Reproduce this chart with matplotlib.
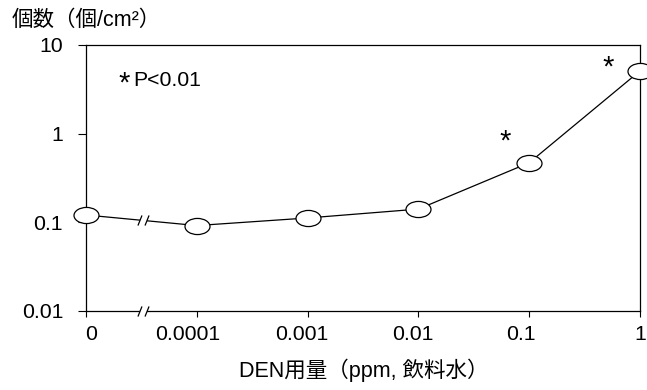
import matplotlib.pyplot as plt
import numpy as np
from matplotlib.path import Path
from matplotlib.transforms import Affine2D, ScaledTranslation

plt.rcParams["font.family"] = ["Liberation Sans", "Noto Sans CJK JP"]

# Dose groups (plotted at equal spacing) and tumour counts per cm2
dose_labels = ["0", "0.0001", "0.001", "0.01", "0.1", "1"]
counts = [0.121, 0.092, 0.112, 0.141, 0.47, 5.1]
significant = [False, False, False, False, True, True]
break_x = 0.51

x = np.arange(len(dose_labels))

fig = plt.figure(figsize=(6.47, 3.90), dpi=100)
ax = fig.add_axes([86 / 647, 1 - 311 / 390, 554 / 647, 266 / 390])

# ellipse-shaped marker
ellipse = Path.unit_circle().transformed(Affine2D().scale(1.55, 1.0))
ax.plot(x, counts, color="black", linewidth=0.9, marker=ellipse,
        markersize=18, markerfacecolor="white", markeredgecolor="black",
        markeredgewidth=0.9, clip_on=False, zorder=3)

ax.set_yscale("log")
ax.set_ylim(0.01, 10)
ax.set_xlim(0, len(dose_labels) - 1)
ax.set_yticks([0.01, 0.1, 1, 10])
ax.set_yticklabels(["0.01", "0.1", "1", "10"])
ax.minorticks_off()
ax.set_xticks(x)
ax.set_xticklabels(dose_labels)

for s in ax.spines.values():
    s.set_linewidth(0.9)
ax.tick_params(axis="y", length=5.5, width=0.8, pad=11, labelsize=15.3)
ax.tick_params(axis="x", length=4, width=0.8, pad=6, labelsize=15.3)

# hand-placed x tick labels (pixel shifts)
label_shift = [5, -9.5, -5.6, -5.4, -8, 0]
for lab, dx in zip(ax.get_xticklabels(), label_shift):
    lab.set_transform(lab.get_transform() +
                      ScaledTranslation(dx / 100, 0, fig.dpi_scale_trans))

# "//" axis-break marks on the x axis and on the curve
slashes = Path([(-5.5, -5), (-1.5, 5), (1.5, -5), (5.5, 5)],
               [Path.MOVETO, Path.LINETO, Path.MOVETO, Path.LINETO])
gap = Path([(-5.5, -5), (1.5, -5), (5.5, 5), (-1.5, 5), (-5.5, -5)],
           [Path.MOVETO, Path.LINETO, Path.LINETO, Path.LINETO, Path.CLOSEPOLY])
y_line = 10 ** np.interp(break_x, x[:2], np.log10(counts[:2]))
bx = [break_x, break_x]
by = [0.01, y_line]
ax.plot(bx, by, linestyle="none", marker=gap, markersize=8,
        markerfacecolor="white", markeredgewidth=0, clip_on=False, zorder=4)
ax.plot(bx, by, linestyle="none", marker=slashes, markersize=8,
        markeredgecolor="black", markeredgewidth=0.9, clip_on=False, zorder=5)

# significance stars (the glyph sits high in its box, hence the lower offsets)
offsets = {4: (-24, 21), 5: (-31.5, 3.5)}
for i, sig in enumerate(significant):
    if sig:
        ax.annotate("*", (x[i], counts[i]), xytext=offsets[i],
                    textcoords="offset pixels", ha="center", va="center",
                    fontsize=21)

fig.text(124 / 647, 1 - 84 / 390, "*", fontsize=21, ha="center", va="center")
fig.text(133 / 647, 1 - 81 / 390, "P<0.01", fontsize=15.3,
         ha="left", va="center")

fig.text(12 / 647, 1 - 20 / 390, "個数（個/cm²）", fontsize=15.5,
         ha="left", va="center")
fig.text(239 / 647, 1 - 370 / 390, "DEN用量（ppm, 飲料水）", fontsize=15.5,
         ha="left", va="center")

fig.savefig("out.png", dpi=100, facecolor="white")
